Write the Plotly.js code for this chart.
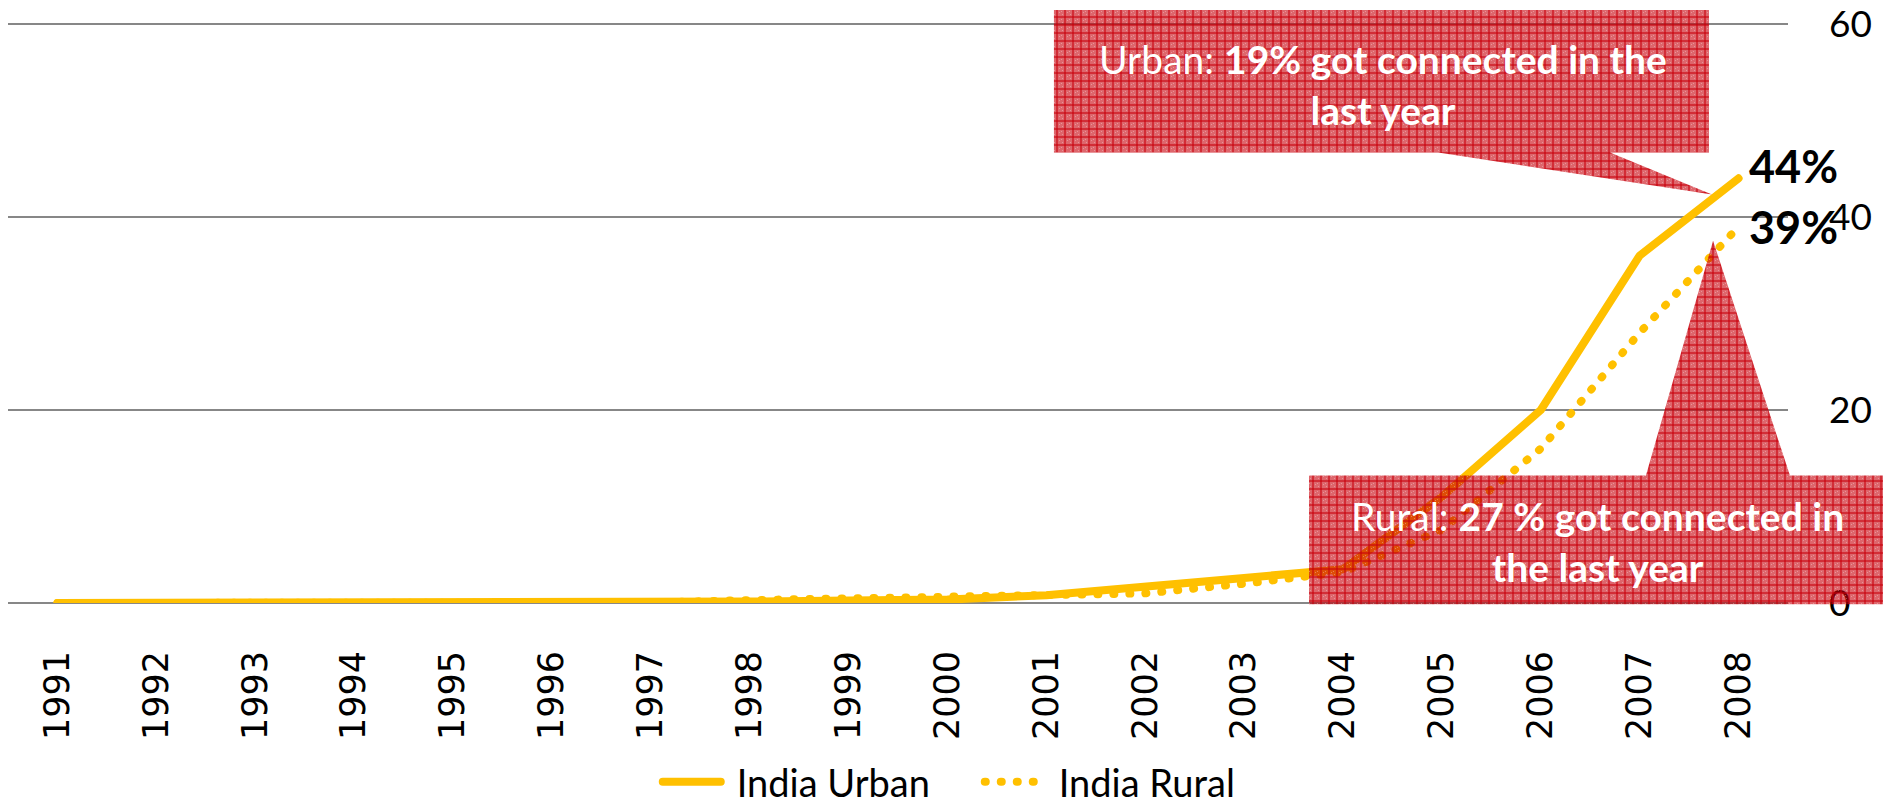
<!DOCTYPE html>
<html>
<head>
<meta charset="utf-8">
<script src="https://cdn.plot.ly/plotly-3.0.1.min.js"></script>
<style>
  html, body { margin: 0; padding: 0; background: #ffffff; }
  #chart { width: 1883px; height: 810px; }
  #defs { position: absolute; width: 0; height: 0; overflow: hidden; }
  path.js-line { stroke-linecap: round !important; stroke-linejoin: round !important; }
</style>
</head>
<body>
<svg id="defs" width="0" height="0" xmlns="http://www.w3.org/2000/svg">
  <defs>
    <pattern id="redhatch" patternUnits="userSpaceOnUse" width="8" height="8">
      <rect x="0" y="0" width="8" height="8" fill="rgb(200,0,10)" fill-opacity="0.6"></rect>
      <rect x="0" y="0" width="8" height="2" fill="rgb(200,0,10)" fill-opacity="0.55"></rect>
      <rect x="0" y="0" width="2" height="8" fill="rgb(200,0,10)" fill-opacity="0.55"></rect>
      <rect x="3" y="4" width="1" height="1" fill="rgb(255,255,255)" fill-opacity="0.3"></rect>
      <rect x="5" y="3" width="1" height="1" fill="rgb(255,255,255)" fill-opacity="0.3"></rect>
      <rect x="6" y="6" width="1" height="1" fill="rgb(255,255,255)" fill-opacity="0.3"></rect>
    </pattern>
  </defs>
</svg>
<div id="chart"></div>
<script>
// ---- data ----
const years = [1991,1992,1993,1994,1995,1996,1997,1998,1999,2000,2001,2002,2003,2004,2005,2006,2007,2008];
const yearLabels = years.map(String);
const indiaUrban = [0,0,0,0,0,0,0.05,0.15,0.25,0.35,0.8,1.6,2.6,3.5,11,20,36,44];
const indiaRural = [0,0,0,0,0,0,0.05,0.3,0.45,0.6,0.8,1.0,2.0,3.2,7.6,16,28,39];
const seriesNames = ['India Urban', 'India Rural'];
const endLabels = ['44%', '39%'];
const yTicks = [0, 20, 40, 60];
const urbanNote = 'Urban: <b>19% got connected in the<br>last year</b>';
const ruralNote = 'Rural: <b>27 % got connected in<br>the last year</b>';

const gold = '#FFC000';
const calloutFill = 'rgba(192,0,0,0.6)';
const txtFont = 'Lato, "Open Sans", sans-serif';

const traces = [
  {
    x: years, y: indiaUrban, name: seriesNames[0], type: 'scatter', mode: 'lines',
    line: { color: gold, width: 8 }
  },
  {
    x: years, y: indiaRural, name: seriesNames[1], type: 'scatter', mode: 'lines',
    line: { color: gold, width: 8, dash: '1px,15px' }
  }
];

const n = years.length;
const layout = {
  width: 1883, height: 810,
  margin: { l: 8, r: 95, t: 22, b: 207, autoexpand: false },
  paper_bgcolor: '#ffffff', plot_bgcolor: '#ffffff',
  showlegend: true,
  legend: {
    orientation: 'h', x: 0.542, xanchor: 'center',
    yref: 'container', y: 0.0346, yanchor: 'middle',
    font: { family: txtFont, size: 38, color: '#000000' },
    itemwidth: 76, entrywidth: 231, bgcolor: 'rgba(0,0,0,0)'
  },
  xaxis: {
    type: 'linear', range: [years[0] - 0.5, years[n - 1] + 0.5],
    tickmode: 'array', tickvals: years, ticktext: yearLabels,
    tickangle: -90, ticks: '', showgrid: false, zeroline: false, showline: false,
    tickfont: { family: '"DejaVu Sans", sans-serif', size: 35, color: '#000000' },
    ticklabelstandoff: 40, automargin: false, fixedrange: true
  },
  yaxis: {
    side: 'right', range: [0, 60.2], tickmode: 'array', tickvals: yTicks,
    ticks: '', showline: false, ticklabeloverflow: 'allow',
    showgrid: true, gridcolor: '#878787', gridwidth: 2,
    zeroline: true, zerolinecolor: '#878787', zerolinewidth: 2,
    tickfont: { family: txtFont, size: 37, color: '#000000' },
    ticklabelstandoff: 40, automargin: false, fixedrange: true
  },
  shapes: [
    {
      type: 'path', xref: 'paper', yref: 'paper', layer: 'above',
      path: 'M0.5876,1.0207 L0.9556,1.0207 L0.9556,0.7755 L0.9,0.7755 L0.9573,0.7029 L0.8034,0.7755 L0.5876,0.7755 Z',
      fillcolor: calloutFill, line: { width: 0 }
    },
    {
      type: 'path', xref: 'paper', yref: 'paper', layer: 'above',
      path: 'M0.7309,-0.002 L1.06,-0.002 L1.06,0.2193 L1.0011,0.2193 L0.9579,0.6235 L0.9202,0.2193 L0.7309,0.2193 Z',
      fillcolor: calloutFill, line: { width: 0 }
    }
  ],
  annotations: [
    {
      xref: 'x', yref: 'y', x: years[n - 1], y: indiaUrban[n - 1], text: '<b>' + endLabels[0] + '</b>',
      showarrow: false, xanchor: 'left', yanchor: 'middle', xshift: 8, yshift: 12,
      font: { family: txtFont, size: 45, color: '#000000' }
    },
    {
      xref: 'x', yref: 'y', x: years[n - 1], y: indiaRural[n - 1], text: '<b>' + endLabels[1] + '</b>',
      showarrow: false, xanchor: 'left', yanchor: 'middle', xshift: 8, yshift: 0,
      font: { family: txtFont, size: 45, color: '#000000' }
    },
    {
      xref: 'paper', yref: 'paper', x: 0.7725, y: 0.893, text: urbanNote,
      showarrow: false, xanchor: 'center', yanchor: 'middle', align: 'center',
      font: { family: txtFont, size: 39, color: '#ffffff' }
    },
    {
      xref: 'paper', yref: 'paper', x: 0.893, y: 0.106, text: ruralNote,
      showarrow: false, xanchor: 'center', yanchor: 'middle', align: 'center',
      font: { family: txtFont, size: 39, color: '#ffffff' }
    }
  ]
};

Plotly.newPlot('chart', traces, layout, { displayModeBar: false, staticPlot: true }).then(function (gd) {
  gd.querySelectorAll('.shapelayer path').forEach(function (p) {
    p.style.setProperty('fill', 'url(#redhatch)');
    p.style.setProperty('fill-opacity', '1');
  });
  // shorten the legend line samples so a gap sits before the text
  gd.querySelectorAll('.legend path.js-line').forEach(function (p) {
    p.setAttribute('d', 'M12,0h58');
  });
});
</script>
</body>
</html>
